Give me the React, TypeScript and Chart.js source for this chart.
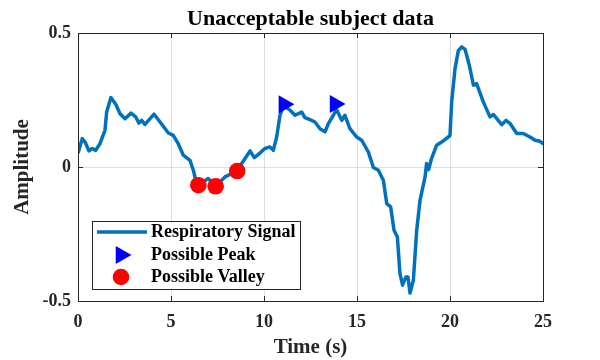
import React, { useEffect, useRef } from 'react';
import { Chart, registerables } from 'chart.js';

Chart.register(...registerables);

// ---- data ----
const titleText = 'Unacceptable subject data';
const xTitle = 'Time (s)';
const yTitle = 'Amplitude';

const timeS = [
  0.02, 0.23, 0.38, 0.59, 0.77, 0.95, 1.18, 1.45, 1.54, 1.77, 2.03, 2.26, 2.53, 2.85, 3.1, 3.28, 3.42, 3.6,
  4.09, 4.41, 4.86, 5.12, 5.39, 5.66, 6.02, 6.2, 6.33, 6.47, 7.0, 7.4, 7.9, 8.26, 8.56, 8.8, 9.25, 9.48,
  9.78, 10.05, 10.32, 10.5, 10.68, 10.86, 10.99, 11.13, 11.4, 11.67, 11.85, 12.03, 12.2, 12.47, 12.74,
  13.01, 13.28, 13.46, 13.73, 13.9, 14.18, 14.35, 14.62, 14.98, 15.25, 15.61, 15.88, 16.15, 16.42, 16.6,
  16.81, 16.99, 17.17, 17.31, 17.45, 17.63, 17.74, 17.85, 18.03, 18.21, 18.39, 18.66, 18.74, 18.85, 19.0,
  19.28, 19.55, 19.91, 20.0, 20.09, 20.27, 20.45, 20.63, 20.81, 21.04, 21.26, 21.43, 21.79, 22.15, 22.33,
  22.78, 23.01, 23.23, 23.59, 23.94, 24.3, 24.57, 24.84, 25.0,
];
const amplitude = [
  0.056, 0.106, 0.093, 0.06, 0.069, 0.062, 0.087, 0.137, 0.205, 0.259, 0.234, 0.199, 0.18, 0.201, 0.187,
  0.164, 0.174, 0.159, 0.197, 0.168, 0.127, 0.118, 0.087, 0.044, 0.025, -0.012, -0.05, -0.068, -0.043,
  -0.072, -0.037, -0.025, -0.015, 0.013, 0.06, 0.035, 0.052, 0.069, 0.075, 0.062, 0.112, 0.193, 0.218,
  0.225, 0.212, 0.193, 0.199, 0.205, 0.184, 0.177, 0.168, 0.143, 0.131, 0.162, 0.193, 0.215, 0.174, 0.193,
  0.143, 0.112, 0.1, 0.056, -0.002, -0.012, -0.05, -0.137, -0.149, -0.236, -0.261, -0.398, -0.441, -0.41,
  -0.41, -0.47, -0.423, -0.236, -0.124, -0.037, 0.013, -0.01, 0.03, 0.081, 0.093, 0.112, 0.118, 0.243,
  0.367, 0.435, 0.448, 0.439, 0.379, 0.305, 0.311, 0.243, 0.187, 0.196, 0.158, 0.174, 0.162, 0.125, 0.125,
  0.112, 0.1, 0.096, 0.087,
];

const peakTimes = [11.07, 13.82];
const peakAmps = [0.234, 0.235];
const valleyTimes = [6.47, 7.4, 8.56];
const valleyAmps = [-0.068, -0.072, -0.015];

const xTicks = [0, 5, 10, 15, 20, 25];
const yTicks = [-0.5, 0, 0.5];

const seriesLabels = ['Respiratory Signal', 'Possible Peak', 'Possible Valley'];

const SIGNAL_COLOR = '#0072BD';
const PEAK_COLOR = '#0000FF';
const VALLEY_COLOR = '#FF0000';
const AXIS_COLOR = '#262626';
const FONT = '"Liberation Serif", "Times New Roman", serif';

function drawTri(ctx: CanvasRenderingContext2D, cx: number, cy: number, r: number) {
  // right-pointing triangle, centroid at (cx, cy)
  ctx.beginPath();
  ctx.moveTo(cx + r, cy);
  ctx.lineTo(cx - r / 2, cy - (r * Math.sqrt(3)) / 2);
  ctx.lineTo(cx - r / 2, cy + (r * Math.sqrt(3)) / 2);
  ctx.closePath();
  ctx.fill();
}

const framePlugin = {
  id: 'matlabFrame',
  afterDraw(chart: any) {
    const { ctx, chartArea } = chart;
    const { left, right, top, bottom } = chartArea;
    const xs = chart.scales.x;
    const ys = chart.scales.y;
    ctx.save();
    // box
    ctx.strokeStyle = AXIS_COLOR;
    ctx.lineWidth = 1;
    ctx.strokeRect(Math.round(left) + 0.5, Math.round(top) + 0.5, Math.round(right - left), Math.round(bottom - top));
    // inward ticks
    const tl = 5;
    ctx.beginPath();
    xTicks.forEach((v) => {
      const px = Math.round(xs.getPixelForValue(v)) + 0.5;
      ctx.moveTo(px, bottom);
      ctx.lineTo(px, bottom - tl);
      ctx.moveTo(px, top);
      ctx.lineTo(px, top + tl);
    });
    yTicks.forEach((v) => {
      const py = Math.round(ys.getPixelForValue(v)) + 0.5;
      ctx.moveTo(left, py);
      ctx.lineTo(left + tl, py);
      ctx.moveTo(right, py);
      ctx.lineTo(right - tl, py);
    });
    ctx.stroke();

    // title
    ctx.fillStyle = '#000000';
    ctx.font = `bold 22px ${FONT}`;
    ctx.textAlign = 'center';
    ctx.textBaseline = 'alphabetic';
    ctx.fillText(titleText, (left + right) / 2, 25);

    // legend
    const bx = left + 14;
    const by = top + 188;
    const bw = 208;
    const bh = 68;
    ctx.fillStyle = '#ffffff';
    ctx.fillRect(bx, by, bw, bh);
    ctx.strokeStyle = AXIS_COLOR;
    ctx.lineWidth = 1;
    ctx.strokeRect(Math.round(bx) + 0.5, Math.round(by) + 0.5, bw, bh);
    const rows = [by + 11, by + 34, by + 56];
    ctx.font = `bold 18px ${FONT}`;
    ctx.textAlign = 'left';
    ctx.textBaseline = 'middle';
    // row 1: line
    ctx.strokeStyle = SIGNAL_COLOR;
    ctx.lineWidth = 3.5;
    ctx.beginPath();
    ctx.moveTo(bx + 5, rows[0]);
    ctx.lineTo(bx + 55, rows[0]);
    ctx.stroke();
    // row 2: triangle
    ctx.fillStyle = PEAK_COLOR;
    drawTri(ctx, bx + 29, rows[1], 10.5);
    // row 3: circle
    ctx.fillStyle = VALLEY_COLOR;
    ctx.beginPath();
    ctx.arc(bx + 29, rows[2], 8.3, 0, Math.PI * 2);
    ctx.fill();
    ctx.fillStyle = '#000000';
    seriesLabels.forEach((lab, i) => ctx.fillText(lab, bx + 59, rows[i]));
    ctx.restore();
  },
};

export default function App() {
  const canvasRef = useRef<HTMLCanvasElement | null>(null);

  useEffect(() => {
    const canvas = canvasRef.current;
    if (!canvas) return;
    const gridColor = 'rgba(38,38,38,0.15)';
    const chart = new Chart(canvas, {
      type: 'line',
      data: {
        datasets: [
          {
            label: seriesLabels[1],
            data: peakTimes.map((t, i) => ({ x: t, y: peakAmps[i] })),
            showLine: false,
            pointStyle: 'triangle',
            rotation: 90,
            pointRadius: 10.5,
            pointHoverRadius: 10.5,
            backgroundColor: PEAK_COLOR,
            borderColor: PEAK_COLOR,
            pointBorderWidth: 0,
            order: 1,
          },
          {
            label: seriesLabels[2],
            data: valleyTimes.map((t, i) => ({ x: t, y: valleyAmps[i] })),
            showLine: false,
            pointStyle: 'circle',
            pointRadius: 8.3,
            pointHoverRadius: 8.3,
            backgroundColor: VALLEY_COLOR,
            borderColor: VALLEY_COLOR,
            pointBorderWidth: 0,
            order: 2,
          },
          {
            label: seriesLabels[0],
            data: timeS.map((t, i) => ({ x: t, y: amplitude[i] })),
            borderColor: SIGNAL_COLOR,
            backgroundColor: SIGNAL_COLOR,
            borderWidth: 3.5,
            pointRadius: 0,
            pointHoverRadius: 0,
            tension: 0,
            fill: false,
            borderJoinStyle: 'round',
            borderCapStyle: 'round',
            order: 3,
          },
        ],
      },
      options: {
        animation: false,
        responsive: false,
        devicePixelRatio: 1,
        events: [],
        layout: { padding: { top: 33, right: 57, left: 0, bottom: 0 } },
        plugins: {
          legend: { display: false },
          title: { display: false },
          tooltip: { enabled: false },
        },
        scales: {
          x: {
            type: 'linear',
            min: 0,
            max: 25,
            afterBuildTicks: (scale: any) => {
              scale.ticks = xTicks.map((v) => ({ value: v }));
            },
            afterFit: (scale: any) => {
              scale.height = 59;
            },
            ticks: {
              color: AXIS_COLOR,
              font: { family: FONT, size: 18, weight: 'bold' },
              padding: 11,
              maxRotation: 0,
              autoSkip: false,
              callback: (v: any) => String(v),
            },
            grid: { color: gridColor, drawTicks: false, lineWidth: 1 },
            border: { display: false },
            title: {
              display: true,
              text: xTitle,
              color: AXIS_COLOR,
              font: { family: FONT, size: 21, weight: 'bold' },
              padding: { top: 0, bottom: 0 },
            },
          },
          y: {
            type: 'linear',
            min: -0.5,
            max: 0.5,
            afterBuildTicks: (scale: any) => {
              scale.ticks = yTicks.map((v) => ({ value: v }));
            },
            afterFit: (scale: any) => {
              scale.width = 78;
            },
            ticks: {
              color: AXIS_COLOR,
              font: { family: FONT, size: 18, weight: 'bold' },
              padding: 7,
              autoSkip: false,
              callback: (v: any) => String(v),
            },
            grid: { color: gridColor, drawTicks: false, lineWidth: 1 },
            border: { display: false },
            title: {
              display: true,
              text: yTitle,
              color: AXIS_COLOR,
              font: { family: FONT, size: 21, weight: 'bold' },
              padding: { top: 10, bottom: 0 },
            },
          },
        },
      },
      plugins: [framePlugin],
    } as any);
    return () => chart.destroy();
  }, []);

  return (
    <div style={{ position: 'fixed', left: 0, top: 0, width: 600, height: 360, background: '#ffffff' }}>
      <canvas ref={canvasRef} width={600} height={360} style={{ display: 'block', width: 600, height: 360 }} />
    </div>
  );
}
